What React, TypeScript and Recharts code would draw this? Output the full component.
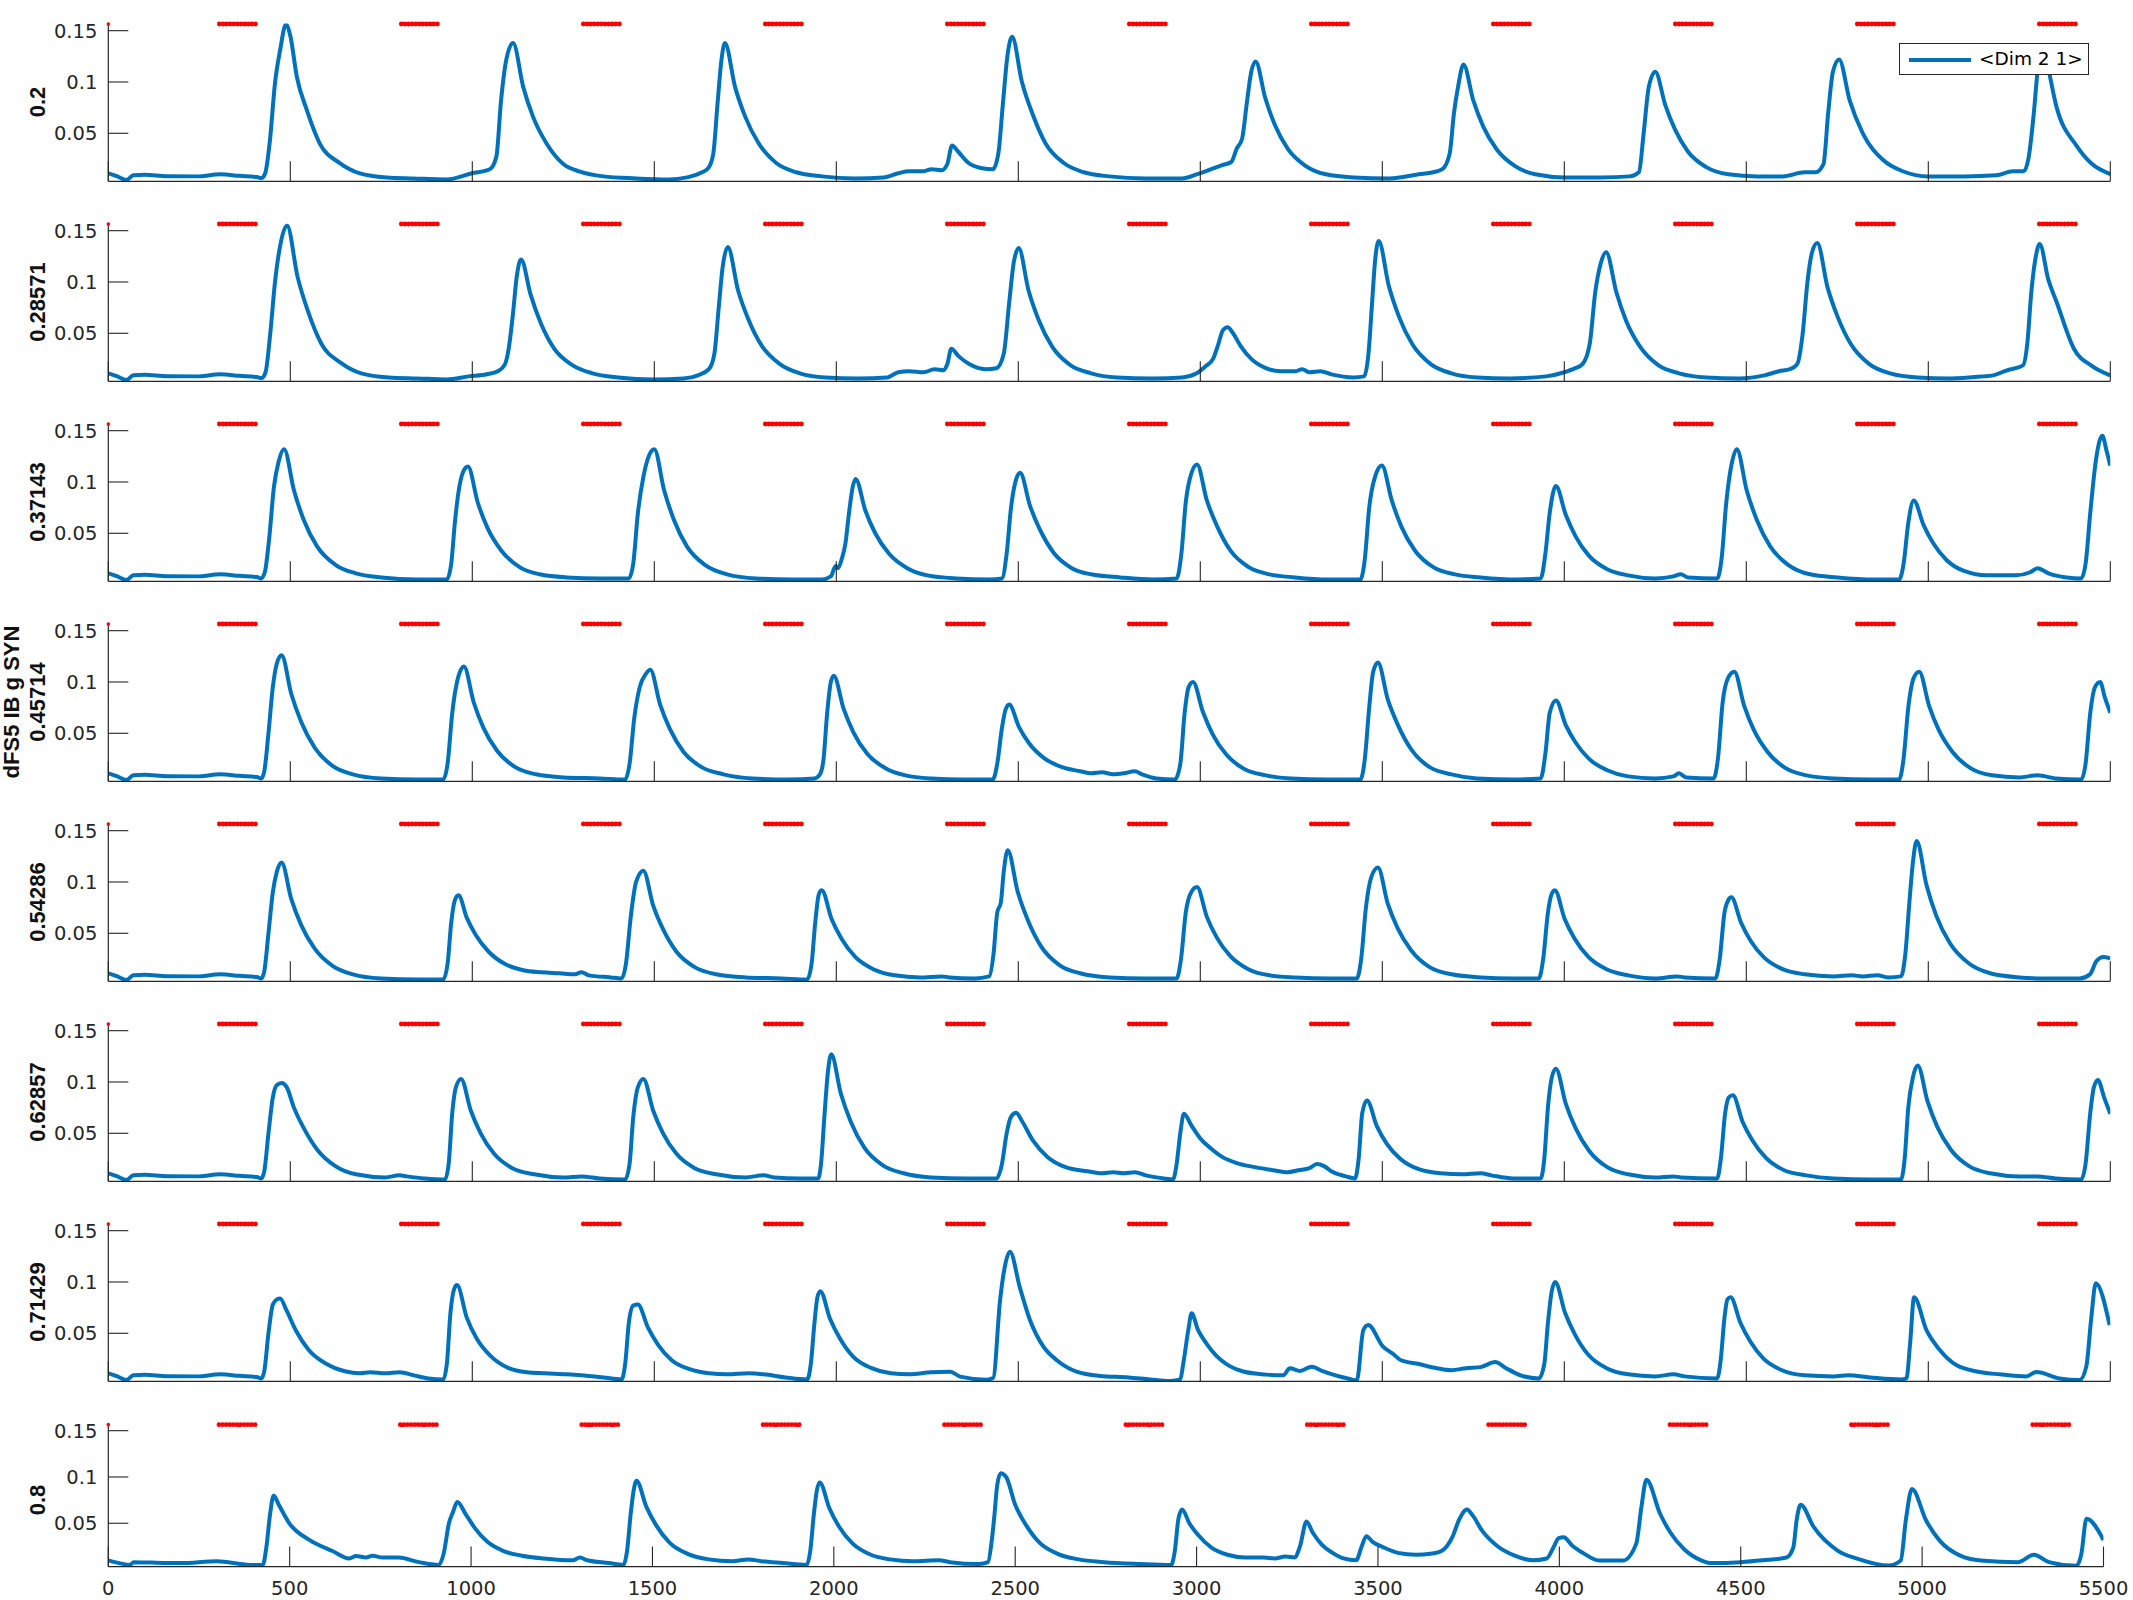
import React from 'react';
import { LineChart, Line, XAxis, YAxis, Legend, ReferenceLine, ReferenceDot } from 'recharts';

// ---------- data ----------
const X_TICKS = [0, 500, 1000, 1500, 2000, 2500, 3000, 3500, 4000, 4500, 5000, 5500];
const Y_TICKS = [0.05, 0.1, 0.15];
const ROW_LABELS = ['0.2', '0.28571', '0.37143', '0.45714', '0.54286', '0.62857', '0.71429', '0.8'];
const SERIES_NAME = '<Dim 2 1>';
const Y_AXIS_TITLE = 'dFS5 IB g SYN';
const MARK_LEVEL = 0.1565;
const RED_STARTS = [305, 805, 1305, 1805, 2305, 2805, 3305, 3805, 4305, 4805, 5305];
const RED_ENDS = [405, 905, 1405, 1905, 2405, 2905, 3405, 3905, 4405, 4905, 5405];
const ORIGIN_MARK_X = [0];

type P = [number, number][];

const ROW_1: P = [[0,0.011],[25,0.008],[50,0.0045],[69,0.009],[100,0.0095],[160,0.0082],[250,0.008],[307,0.010],[360,0.0085],[408,0.0074],[421,0.0063],[431,0.011],[444,0.043],[458,0.099],[472,0.131],[488,0.156],[500,0.145],[518,0.105],[545,0.073],[581,0.040],[636,0.021],[691,0.011],[765,0.007],[838,0.006],[929,0.005],[999,0.011],[1048,0.015],[1066,0.027],[1079,0.082],[1093,0.121],[1112,0.138],[1140,0.095],[1167,0.066],[1204,0.040],[1250,0.020],[1296,0.0126],[1360,0.008],[1450,0.006],[1540,0.005],[1590,0.007],[1625,0.011],[1648,0.016],[1662,0.03],[1674,0.08],[1684,0.12],[1694,0.138],[1722,0.095],[1750,0.066],[1787,0.040],[1835,0.021],[1890,0.012],[1960,0.008],[2050,0.006],[2130,0.007],[2170,0.011],[2200,0.013],[2240,0.013],[2262,0.015],[2290,0.014],[2305,0.02],[2318,0.038],[2335,0.032],[2360,0.022],[2400,0.016],[2430,0.015],[2445,0.03],[2458,0.08],[2470,0.125],[2483,0.144],[2510,0.10],[2540,0.068],[2575,0.040],[2625,0.021],[2680,0.012],[2750,0.008],[2850,0.006],[2950,0.006],[2990,0.010],[3030,0.015],[3060,0.019],[3085,0.022],[3100,0.035],[3115,0.045],[3128,0.08],[3140,0.11],[3152,0.12],[3178,0.085],[3205,0.058],[3240,0.035],[3290,0.018],[3345,0.010],[3420,0.007],[3520,0.006],[3600,0.01],[3640,0.012],[3665,0.015],[3685,0.03],[3697,0.07],[3708,0.095],[3723,0.117],[3750,0.082],[3778,0.056],[3815,0.034],[3865,0.018],[3920,0.010],[4000,0.007],[4100,0.007],[4180,0.008],[4205,0.012],[4218,0.05],[4232,0.095],[4250,0.110],[4277,0.078],[4305,0.053],[4340,0.032],[4390,0.017],[4450,0.010],[4530,0.008],[4600,0.008],[4660,0.012],[4690,0.012],[4712,0.02],[4725,0.07],[4738,0.11],[4755,0.122],[4784,0.082],[4820,0.05],[4876,0.024],[4930,0.013],[5000,0.008],[5100,0.008],[5187,0.009],[5232,0.013],[5262,0.013],[5275,0.025],[5290,0.07],[5300,0.11],[5312,0.135],[5325,0.12],[5352,0.076],[5407,0.038],[5450,0.02],[5500,0.0103]];

const ROW_2: P = [[0,0.011],[25,0.008],[50,0.0045],[69,0.009],[100,0.0095],[160,0.0082],[250,0.008],[307,0.010],[360,0.0085],[408,0.0074],[421,0.0063],[432,0.012],[445,0.05],[458,0.10],[472,0.135],[491,0.155],[520,0.105],[548,0.072],[585,0.040],[640,0.021],[695,0.011],[770,0.007],[850,0.006],[930,0.005],[990,0.008],[1040,0.01],[1070,0.013],[1090,0.02],[1100,0.035],[1112,0.07],[1122,0.105],[1134,0.122],[1160,0.088],[1188,0.060],[1225,0.035],[1275,0.019],[1330,0.011],[1400,0.007],[1500,0.005],[1580,0.006],[1620,0.009],[1650,0.015],[1665,0.03],[1677,0.075],[1688,0.115],[1702,0.134],[1730,0.092],[1758,0.064],[1795,0.038],[1845,0.020],[1900,0.011],[1970,0.007],[2060,0.006],[2140,0.007],[2170,0.012],[2200,0.013],[2240,0.012],[2270,0.015],[2295,0.014],[2305,0.02],[2316,0.035],[2335,0.028],[2365,0.02],[2410,0.015],[2440,0.016],[2460,0.03],[2475,0.08],[2488,0.12],[2501,0.133],[2528,0.092],[2556,0.063],[2593,0.037],[2643,0.019],[2700,0.011],[2770,0.007],[2870,0.006],[2950,0.007],[2990,0.011],[3015,0.018],[3035,0.025],[3050,0.04],[3062,0.053],[3075,0.056],[3090,0.05],[3110,0.038],[3140,0.025],[3180,0.016],[3220,0.013],[3260,0.013],[3280,0.015],[3300,0.012],[3330,0.013],[3360,0.01],[3420,0.007],[3450,0.008],[3462,0.03],[3472,0.08],[3480,0.12],[3490,0.14],[3518,0.096],[3546,0.066],[3583,0.039],[3633,0.020],[3690,0.011],[3760,0.007],[3850,0.006],[3950,0.008],[4000,0.012],[4030,0.016],[4050,0.02],[4070,0.04],[4085,0.09],[4100,0.118],[4115,0.129],[4143,0.09],[4170,0.062],[4208,0.037],[4258,0.019],[4315,0.011],[4390,0.007],[4480,0.006],[4550,0.009],[4590,0.013],[4620,0.015],[4640,0.02],[4655,0.05],[4668,0.1],[4680,0.128],[4695,0.138],[4723,0.095],[4751,0.066],[4788,0.039],[4838,0.020],[4895,0.011],[4970,0.007],[5060,0.006],[5150,0.008],[5178,0.009],[5214,0.0137],[5260,0.0187],[5272,0.04],[5283,0.09],[5294,0.122],[5306,0.137],[5330,0.102],[5352,0.081],[5400,0.035],[5450,0.018],[5500,0.009]];

const ROW_3: P = [[0,0.011],[25,0.008],[50,0.0045],[69,0.009],[100,0.0095],[160,0.0082],[250,0.008],[307,0.010],[360,0.0085],[408,0.0074],[420,0.006],[430,0.012],[442,0.045],[455,0.095],[468,0.12],[483,0.132],[510,0.092],[537,0.063],[574,0.037],[625,0.019],[680,0.011],[750,0.007],[850,0.005],[930,0.005],[942,0.02],[952,0.06],[962,0.09],[975,0.11],[988,0.115],[1015,0.08],[1042,0.055],[1080,0.033],[1130,0.017],[1185,0.010],[1260,0.007],[1350,0.006],[1430,0.006],[1442,0.02],[1455,0.07],[1470,0.105],[1487,0.127],[1500,0.132],[1527,0.092],[1554,0.063],[1590,0.037],[1640,0.019],[1700,0.010],[1780,0.006],[1880,0.005],[1960,0.005],[1985,0.008],[1998,0.018],[2005,0.016],[2015,0.025],[2025,0.04],[2035,0.07],[2045,0.095],[2053,0.103],[2080,0.072],[2107,0.050],[2145,0.030],[2195,0.016],[2250,0.009],[2330,0.006],[2420,0.005],[2455,0.006],[2468,0.03],[2480,0.075],[2492,0.1],[2505,0.109],[2532,0.077],[2560,0.053],[2597,0.031],[2647,0.016],[2700,0.010],[2780,0.007],[2870,0.005],[2935,0.006],[2948,0.03],[2960,0.08],[2975,0.108],[2991,0.117],[3018,0.082],[3046,0.057],[3083,0.033],[3133,0.017],[3190,0.010],[3260,0.007],[3350,0.005],[3440,0.005],[3452,0.025],[3464,0.075],[3480,0.105],[3499,0.116],[3526,0.082],[3553,0.056],[3590,0.033],[3640,0.017],[3700,0.010],[3770,0.007],[3870,0.005],[3935,0.006],[3948,0.03],[3960,0.07],[3977,0.096],[4004,0.068],[4031,0.047],[4068,0.028],[4118,0.015],[4175,0.009],[4250,0.006],[4300,0.008],[4320,0.01],[4340,0.007],[4420,0.006],[4432,0.025],[4445,0.08],[4460,0.118],[4474,0.132],[4501,0.092],[4529,0.063],[4566,0.037],[4616,0.019],[4675,0.010],[4750,0.007],[4850,0.005],[4920,0.005],[4932,0.02],[4945,0.06],[4960,0.082],[4987,0.058],[5014,0.040],[5050,0.024],[5100,0.013],[5160,0.009],[5240,0.009],[5280,0.012],[5300,0.016],[5330,0.011],[5380,0.007],[5420,0.006],[5432,0.02],[5445,0.07],[5460,0.12],[5478,0.145],[5490,0.13],[5500,0.116]];

const ROW_4: P = [[0,0.011],[25,0.008],[50,0.0045],[69,0.009],[100,0.0095],[160,0.0082],[250,0.008],[307,0.010],[360,0.0085],[408,0.0074],[420,0.006],[428,0.012],[440,0.05],[452,0.095],[463,0.118],[476,0.126],[503,0.088],[530,0.061],[567,0.036],[617,0.018],[672,0.010],[750,0.006],[850,0.005],[920,0.005],[932,0.02],[945,0.07],[958,0.1],[977,0.115],[1004,0.08],[1031,0.055],[1068,0.033],[1118,0.017],[1175,0.010],[1250,0.007],[1350,0.006],[1420,0.005],[1432,0.02],[1445,0.065],[1460,0.095],[1477,0.108],[1489,0.112],[1516,0.078],[1543,0.054],[1580,0.032],[1630,0.017],[1690,0.010],[1770,0.006],[1870,0.005],[1940,0.006],[1955,0.01],[1965,0.025],[1975,0.07],[1985,0.1],[1993,0.106],[2020,0.074],[2047,0.051],[2085,0.030],[2135,0.016],[2190,0.009],[2260,0.006],[2350,0.005],[2430,0.005],[2442,0.02],[2455,0.055],[2465,0.073],[2475,0.078],[2502,0.056],[2530,0.040],[2570,0.026],[2620,0.017],[2670,0.013],[2700,0.011],[2730,0.012],[2760,0.010],[2790,0.011],[2820,0.013],[2840,0.010],[2880,0.006],[2930,0.005],[2945,0.02],[2957,0.07],[2968,0.095],[2980,0.1],[3007,0.071],[3034,0.049],[3072,0.029],[3122,0.015],[3180,0.009],[3250,0.006],[3350,0.005],[3440,0.005],[3452,0.025],[3464,0.075],[3475,0.11],[3488,0.119],[3515,0.083],[3543,0.058],[3580,0.034],[3630,0.017],[3690,0.010],[3760,0.006],[3860,0.005],[3935,0.006],[3948,0.03],[3960,0.07],[3977,0.082],[4004,0.058],[4031,0.041],[4068,0.025],[4118,0.014],[4175,0.008],[4250,0.006],[4300,0.008],[4315,0.011],[4335,0.007],[4410,0.006],[4422,0.025],[4435,0.08],[4450,0.104],[4467,0.11],[4494,0.077],[4521,0.053],[4558,0.032],[4608,0.016],[4665,0.009],[4740,0.006],[4840,0.005],[4920,0.005],[4932,0.025],[4945,0.075],[4960,0.104],[4975,0.11],[5002,0.077],[5029,0.053],[5066,0.032],[5116,0.016],[5175,0.009],[5250,0.007],[5300,0.009],[5350,0.006],[5420,0.005],[5432,0.02],[5445,0.07],[5458,0.095],[5472,0.1],[5485,0.085],[5500,0.07]];

const ROW_5: P = [[0,0.011],[25,0.008],[50,0.0045],[69,0.009],[100,0.0095],[160,0.0082],[250,0.008],[307,0.010],[360,0.0085],[408,0.0074],[420,0.006],[428,0.012],[440,0.05],[452,0.09],[463,0.11],[476,0.119],[503,0.083],[530,0.058],[567,0.035],[617,0.018],[672,0.010],[750,0.006],[850,0.005],[920,0.005],[932,0.02],[942,0.06],[952,0.082],[962,0.087],[985,0.065],[1010,0.048],[1045,0.032],[1090,0.02],[1140,0.014],[1190,0.012],[1240,0.011],[1280,0.010],[1300,0.012],[1320,0.009],[1380,0.007],[1410,0.006],[1422,0.02],[1435,0.065],[1450,0.1],[1470,0.111],[1497,0.077],[1524,0.054],[1561,0.032],[1611,0.017],[1670,0.010],[1750,0.007],[1850,0.006],[1920,0.005],[1932,0.02],[1942,0.06],[1952,0.088],[1960,0.092],[1987,0.064],[2014,0.045],[2052,0.027],[2102,0.015],[2160,0.009],[2230,0.007],[2290,0.008],[2310,0.007],[2380,0.006],[2420,0.008],[2432,0.03],[2442,0.07],[2452,0.08],[2460,0.11],[2471,0.131],[2498,0.091],[2526,0.063],[2563,0.037],[2613,0.019],[2670,0.011],[2750,0.007],[2850,0.006],[2935,0.006],[2947,0.025],[2960,0.07],[2975,0.09],[2991,0.095],[3018,0.066],[3045,0.046],[3082,0.028],[3132,0.015],[3190,0.009],[3260,0.007],[3360,0.006],[3430,0.006],[3442,0.025],[3455,0.075],[3470,0.105],[3488,0.114],[3515,0.079],[3542,0.055],[3580,0.033],[3630,0.017],[3690,0.010],[3770,0.007],[3860,0.006],[3930,0.006],[3942,0.025],[3955,0.07],[3965,0.088],[3974,0.092],[4001,0.064],[4028,0.045],[4066,0.027],[4116,0.015],[4175,0.009],[4250,0.006],[4310,0.008],[4330,0.007],[4415,0.006],[4427,0.025],[4440,0.07],[4450,0.082],[4459,0.085],[4486,0.06],[4513,0.042],[4550,0.026],[4600,0.015],[4660,0.010],[4740,0.008],[4790,0.009],[4820,0.008],[4860,0.009],[4890,0.007],[4925,0.008],[4937,0.03],[4948,0.08],[4958,0.12],[4968,0.14],[4995,0.097],[5022,0.067],[5060,0.040],[5110,0.021],[5170,0.011],[5250,0.007],[5320,0.006],[5416,0.006],[5444,0.01],[5462,0.023],[5481,0.027],[5495,0.026],[5500,0.025]];

const ROW_6: P = [[0,0.011],[25,0.008],[50,0.0045],[69,0.009],[100,0.0095],[160,0.0082],[250,0.008],[307,0.010],[360,0.0085],[408,0.0074],[420,0.006],[428,0.012],[440,0.05],[452,0.085],[463,0.097],[476,0.099],[490,0.095],[510,0.075],[537,0.055],[574,0.034],[624,0.018],[680,0.010],[760,0.007],[800,0.009],[820,0.008],[870,0.006],[925,0.005],[935,0.02],[945,0.07],[955,0.095],[969,0.103],[996,0.072],[1023,0.050],[1060,0.030],[1110,0.016],[1170,0.010],[1250,0.007],[1300,0.008],[1350,0.006],[1420,0.005],[1432,0.02],[1442,0.065],[1455,0.095],[1470,0.103],[1497,0.072],[1524,0.050],[1561,0.030],[1611,0.016],[1670,0.010],[1750,0.007],[1800,0.009],[1830,0.007],[1900,0.006],[1950,0.006],[1958,0.02],[1968,0.07],[1977,0.11],[1986,0.127],[2013,0.088],[2040,0.061],[2077,0.036],[2127,0.019],[2185,0.011],[2260,0.007],[2360,0.006],[2440,0.006],[2455,0.02],[2468,0.05],[2480,0.066],[2494,0.07],[2510,0.062],[2540,0.043],[2580,0.027],[2630,0.017],[2690,0.013],[2730,0.011],[2760,0.012],[2790,0.011],[2820,0.012],[2850,0.009],[2900,0.006],[2925,0.005],[2935,0.02],[2945,0.05],[2955,0.069],[2975,0.058],[3000,0.045],[3030,0.035],[3060,0.027],[3100,0.021],[3150,0.017],[3200,0.014],[3240,0.012],[3270,0.014],[3300,0.016],[3320,0.020],[3340,0.018],[3360,0.013],[3400,0.008],[3425,0.006],[3435,0.025],[3445,0.07],[3458,0.082],[3485,0.057],[3512,0.040],[3550,0.025],[3600,0.015],[3660,0.011],[3720,0.010],[3770,0.011],[3800,0.009],[3860,0.006],[3935,0.006],[3945,0.025],[3955,0.075],[3966,0.105],[3977,0.113],[4004,0.079],[4031,0.055],[4068,0.033],[4118,0.017],[4175,0.010],[4250,0.007],[4300,0.008],[4320,0.007],[4420,0.006],[4430,0.025],[4442,0.07],[4452,0.085],[4463,0.087],[4490,0.061],[4517,0.043],[4554,0.026],[4604,0.014],[4665,0.009],[4740,0.006],[4840,0.005],[4925,0.005],[4935,0.025],[4945,0.075],[4958,0.105],[4971,0.116],[4998,0.081],[5025,0.056],[5062,0.034],[5112,0.018],[5170,0.011],[5250,0.008],[5300,0.008],[5350,0.006],[5420,0.005],[5432,0.02],[5445,0.07],[5455,0.095],[5466,0.102],[5483,0.085],[5500,0.069]];

const ROW_7: P = [[0,0.011],[25,0.008],[50,0.0045],[69,0.009],[100,0.0095],[160,0.0082],[250,0.008],[307,0.010],[360,0.0085],[408,0.0074],[420,0.006],[428,0.012],[440,0.05],[452,0.078],[463,0.083],[472,0.084],[490,0.072],[515,0.053],[550,0.034],[600,0.020],[650,0.013],[690,0.011],[720,0.012],[760,0.011],[800,0.012],[840,0.009],[880,0.006],[920,0.005],[930,0.02],[940,0.07],[950,0.093],[958,0.097],[985,0.065],[1012,0.045],[1050,0.028],[1100,0.016],[1150,0.012],[1200,0.011],[1260,0.010],[1300,0.009],[1360,0.007],[1410,0.005],[1420,0.02],[1430,0.06],[1442,0.077],[1455,0.078],[1482,0.056],[1510,0.039],[1547,0.024],[1597,0.015],[1650,0.011],[1700,0.010],[1760,0.011],[1800,0.010],[1860,0.007],[1920,0.005],[1930,0.02],[1940,0.06],[1948,0.085],[1956,0.091],[1983,0.064],[2010,0.045],[2047,0.027],[2097,0.016],[2150,0.011],[2200,0.010],[2260,0.012],[2313,0.0126],[2340,0.0078],[2413,0.0048],[2431,0.0064],[2450,0.0824],[2463,0.115],[2477,0.1295],[2504,0.095],[2532,0.063],[2569,0.037],[2605,0.024],[2660,0.0126],[2724,0.0084],[2803,0.007],[2862,0.005],[2917,0.0035],[2945,0.005],[2953,0.020],[2967,0.053],[2976,0.0695],[2994,0.053],[3017,0.040],[3045,0.0277],[3072,0.020],[3081,0.018],[3118,0.0127],[3182,0.0097],[3228,0.009],[3246,0.0159],[3274,0.0133],[3306,0.0174],[3338,0.0128],[3411,0.0054],[3430,0.004],[3448,0.0532],[3461,0.058],[3502,0.037],[3530,0.0298],[3550,0.024],[3600,0.02],[3650,0.016],[3690,0.014],[3730,0.016],[3770,0.017],[3810,0.022],[3840,0.016],[3880,0.009],[3930,0.006],[3945,0.02],[3955,0.06],[3965,0.09],[3975,0.1],[4002,0.07],[4029,0.049],[4066,0.029],[4116,0.016],[4175,0.010],[4250,0.008],[4300,0.010],[4330,0.008],[4420,0.006],[4430,0.025],[4440,0.065],[4448,0.083],[4457,0.085],[4484,0.06],[4511,0.042],[4548,0.025],[4598,0.014],[4660,0.009],[4740,0.008],[4780,0.009],[4840,0.007],[4925,0.005],[4940,0.006],[4950,0.04],[4961,0.085],[4995,0.053],[5031,0.034],[5077,0.019],[5141,0.0123],[5196,0.010],[5269,0.008],[5297,0.0123],[5361,0.006],[5416,0.0045],[5434,0.0175],[5448,0.066],[5460,0.0987],[5498,0.058]];

const ROW_8: P = [[0,0.010],[30,0.007],[60,0.005],[70,0.008],[120,0.0075],[200,0.007],[300,0.009],[390,0.005],[426,0.005],[436,0.025],[446,0.06],[456,0.080],[470,0.07],[499,0.050],[554,0.032],[618,0.020],[664,0.012],[683,0.0146],[710,0.013],[728,0.015],[756,0.013],[801,0.013],[856,0.008],[911,0.005],[925,0.018],[939,0.05],[950,0.062],[962,0.073],[985,0.06],[1010,0.045],[1045,0.030],[1090,0.02],[1140,0.015],[1200,0.012],[1280,0.010],[1300,0.013],[1320,0.010],[1380,0.007],[1420,0.005],[1430,0.02],[1440,0.06],[1448,0.085],[1456,0.096],[1483,0.068],[1510,0.048],[1547,0.029],[1597,0.017],[1655,0.011],[1720,0.009],[1765,0.011],[1800,0.009],[1860,0.007],[1925,0.005],[1935,0.02],[1945,0.06],[1953,0.085],[1961,0.094],[1988,0.066],[2015,0.046],[2052,0.028],[2102,0.016],[2155,0.011],[2220,0.009],[2290,0.010],[2320,0.008],[2400,0.006],[2425,0.008],[2435,0.03],[2443,0.06],[2450,0.09],[2460,0.104],[2475,0.1],[2500,0.07],[2530,0.048],[2567,0.029],[2617,0.017],[2675,0.011],[2745,0.008],[2845,0.006],[2930,0.005],[2940,0.02],[2950,0.055],[2960,0.065],[2980,0.05],[3005,0.037],[3040,0.024],[3085,0.016],[3135,0.013],[3185,0.013],[3215,0.012],[3245,0.014],[3270,0.013],[3285,0.025],[3303,0.052],[3320,0.04],[3345,0.027],[3375,0.018],[3405,0.012],[3440,0.01],[3455,0.025],[3468,0.036],[3485,0.03],[3515,0.024],[3555,0.018],[3605,0.016],[3645,0.017],[3675,0.02],[3705,0.035],[3725,0.055],[3745,0.065],[3762,0.058],[3787,0.042],[3827,0.026],[3877,0.015],[3927,0.010],[3965,0.012],[3985,0.025],[3998,0.034],[4012,0.035],[4035,0.026],[4065,0.018],[4109,0.0097],[4175,0.0097],[4212,0.028],[4226,0.067],[4240,0.097],[4278,0.06],[4306,0.040],[4344,0.022],[4391,0.010],[4419,0.007],[4500,0.008],[4560,0.010],[4626,0.013],[4645,0.024],[4654,0.053],[4665,0.070],[4701,0.046],[4767,0.0205],[4823,0.0115],[4908,0.0043],[4941,0.0097],[4955,0.053],[4972,0.087],[5011,0.053],[5049,0.031],[5105,0.015],[5162,0.0097],[5265,0.008],[5308,0.016],[5350,0.008],[5425,0.004],[5439,0.017],[5453,0.055],[5500,0.032]];

const ROWS: P[] = [ROW_1, ROW_2, ROW_3, ROW_4, ROW_5, ROW_6, ROW_7, ROW_8];

// ---------- styling / layout ----------
const BLUE = '#0072BD';
const RED = '#FF0000';
const AXIS = '#262626';
const Y_DOMAIN: [number, number] = [0.0032, 0.157];
const CHART_W = 2133;
const CHART_H = 200;
const PLOT_LEFT = 108.3;
const Y_AXIS_W = 40;
const X_AXIS_H = 10;
const TICK_LEN = 20;
const TICK_SIZE = 19.5;
const TICK_FONT = "'DejaVu Sans', sans-serif";
const LABEL_FONT = "'Liberation Sans', Arial, sans-serif";

interface Geo { top: number; plotTop: number; plotBottom: number; plotRight: number; }
const geoFor = (k: number): Geo =>
  k < 7
    ? { top: 200 * k, plotTop: 23.5, plotBottom: 181.3, plotRight: 2110.3 }
    : { top: 1400, plotTop: 24.2, plotBottom: 166.6, plotRight: 2103.5 };

const makeYTick = () => (props: any) => {
  const { y, payload } = props;
  return (
    <g>
      <line x1={PLOT_LEFT} x2={PLOT_LEFT + TICK_LEN} y1={y} y2={y} stroke={AXIS} strokeWidth={1.1} />
      <text x={PLOT_LEFT - 11} y={y} dy="0.36em" textAnchor="end" fontFamily={TICK_FONT} fontSize={TICK_SIZE} fill={AXIS}>
        {String(payload.value)}
      </text>
    </g>
  );
};

const makeXTick = (plotBottom: number, showLabel: boolean) => (props: any) => {
  const { x, payload } = props;
  return (
    <g>
      <line x1={x} x2={x} y1={plotBottom} y2={plotBottom - TICK_LEN} stroke={AXIS} strokeWidth={1.1} />
      {showLabel && (
        <text x={x} y={plotBottom + 28} textAnchor="middle" fontFamily={TICK_FONT} fontSize={TICK_SIZE} fill={AXIS}>
          {String(payload.value)}
        </text>
      )}
    </g>
  );
};

// a row of red dots drawn over a ReferenceLine segment
const DottedSegment = (props: any) => {
  const { x1, x2, y1 } = props;
  return (
    <line
      x1={x1}
      x2={x2}
      y1={y1}
      y2={y1}
      stroke={RED}
      strokeWidth={4.8}
      strokeDasharray="0.01 3.6"
      strokeLinecap="round"
    />
  );
};

const LegendBox = () => (
  <div
    style={{
      width: 190,
      height: 32,
      boxSizing: 'border-box',
      border: `1px solid ${AXIS}`,
      background: '#fff',
      position: 'relative',
    }}
  >
    <div style={{ position: 'absolute', left: 9, top: 14, width: 62, height: 4, background: BLUE }} />
    <div
      style={{
        position: 'absolute',
        left: 79,
        top: 0,
        height: 30,
        lineHeight: '30px',
        fontFamily: TICK_FONT,
        fontSize: 18.5,
        color: '#000',
        whiteSpace: 'pre',
      }}
    >
      {SERIES_NAME}
    </div>
  </div>
);

const RotLabel = ({ text, cx, cy }: { text: string; cx: number; cy: number }) => (
  <div
    style={{
      position: 'absolute',
      left: cx,
      top: cy,
      transform: 'translate(-50%, -50%) rotate(-90deg)',
      fontFamily: LABEL_FONT,
      fontWeight: 700,
      fontSize: 22,
      lineHeight: '22px',
      whiteSpace: 'nowrap',
      color: '#111',
    }}
  >
    {text}
  </div>
);

const Panel = ({ k }: { k: number }) => {
  const g = geoFor(k);
  const data = ROWS[k].map(([x, v]) => ({ x, v }));
  const last = k === 7;
  const centerY = g.top + (g.plotTop + g.plotBottom) / 2 + (last ? 5 : 0);
  return (
    <>
      <div style={{ position: 'absolute', left: 0, top: g.top, width: CHART_W, height: CHART_H }}>
        <LineChart
          width={CHART_W}
          height={CHART_H}
          margin={{
            top: g.plotTop,
            bottom: CHART_H - g.plotBottom - X_AXIS_H,
            left: PLOT_LEFT - Y_AXIS_W,
            right: CHART_W - g.plotRight,
          }}
        >
          <XAxis
            type="number"
            dataKey="x"
            domain={[0, 5500]}
            ticks={X_TICKS}
            interval={0}
            height={X_AXIS_H}
            tickLine={false}
            axisLine={{ stroke: AXIS, strokeWidth: 1.2 }}
            tick={makeXTick(g.plotBottom, last)}
            allowDataOverflow
          />
          <YAxis
            type="number"
            domain={Y_DOMAIN}
            ticks={Y_TICKS}
            interval={0}
            width={Y_AXIS_W}
            tickLine={false}
            axisLine={{ stroke: AXIS, strokeWidth: 1.2 }}
            tick={makeYTick()}
            allowDataOverflow
          />
          <Line
            data={data}
            dataKey="v"
            name={SERIES_NAME}
            type="monotone"
            stroke={BLUE}
            strokeWidth={4}
            strokeLinejoin="round"
            dot={false}
            activeDot={false}
            isAnimationActive={false}
          />
          {RED_STARTS.map((s, i) => (
            <ReferenceLine
              key={`seg${i}`}
              segment={[
                { x: s, y: MARK_LEVEL },
                { x: RED_ENDS[i], y: MARK_LEVEL },
              ]}
              ifOverflow="visible"
              stroke={RED}
              shape={DottedSegment}
            />
          ))}
          {ORIGIN_MARK_X.map((x, i) => (
            <ReferenceDot
              key={`o${i}`}
              x={x}
              y={MARK_LEVEL}
              r={1.8}
              fill={RED}
              stroke="none"
              ifOverflow="visible"
            />
          ))}
          {k === 0 && (
            <Legend
              layout="horizontal"
              verticalAlign="middle"
              align="center"
              wrapperStyle={{ left: 1899, top: 43, width: 190, height: 32 }}
              content={() => <LegendBox />}
            />
          )}
        </LineChart>
      </div>
      {k === 3 ? (
        <>
          <RotLabel text={Y_AXIS_TITLE} cx={12} cy={centerY} />
          <RotLabel text={ROW_LABELS[k]} cx={38.3} cy={centerY} />
        </>
      ) : (
        <RotLabel text={ROW_LABELS[k]} cx={38.3} cy={centerY} />
      )}
    </>
  );
};

export default function App() {
  return (
    <div
      style={{
        position: 'absolute',
        left: 0,
        top: 0,
        width: CHART_W,
        height: 1600,
        background: '#fff',
        overflow: 'hidden',
      }}
    >
      {ROWS.map((_, k) => (
        <Panel key={k} k={k} />
      ))}
    </div>
  );
}
